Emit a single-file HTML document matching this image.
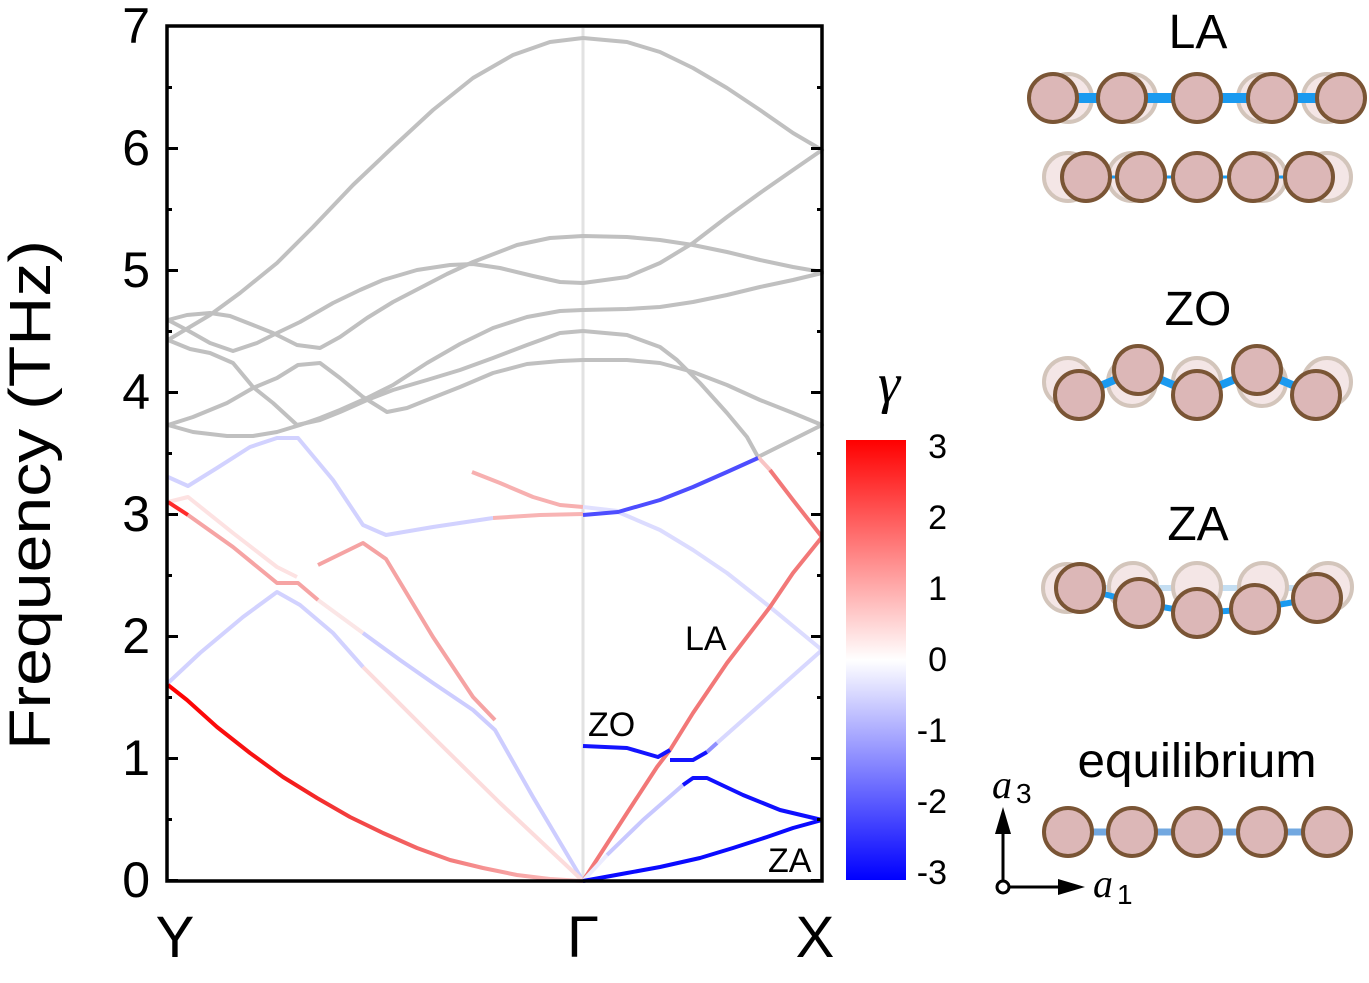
<!DOCTYPE html>
<html><head><meta charset="utf-8"><style>
html,body{margin:0;padding:0;background:#fff;}
svg{display:block;}
text{font-family:"Liberation Sans",Arial,sans-serif;fill:#000;}
.ser{font-family:"Liberation Serif","DejaVu Serif",serif;font-style:italic;}
.g{fill:none;stroke:#c0c0c0;stroke-width:4;stroke-linejoin:round;stroke-linecap:round;}
.c{fill:none;stroke-width:4;stroke-linejoin:round;stroke-linecap:butt;}
.gh{fill:#f4e6e6;stroke:#d3c5bb;stroke-width:4;}
.at{fill:#dcb7b7;stroke:#7a5535;stroke-width:4;}
</style></head><body>
<svg width="1369" height="983" viewBox="0 0 1369 983" xmlns="http://www.w3.org/2000/svg">
<defs>
<linearGradient id="cb" x1="0" y1="0" x2="0" y2="1">
<stop offset="0" stop-color="#ff0000"/>
<stop offset="0.5" stop-color="#ffffff"/>
<stop offset="1" stop-color="#0000ff"/>
</linearGradient>
<linearGradient id="c1" gradientUnits="userSpaceOnUse" x1="168" y1="0" x2="583" y2="0">
<stop offset="0" stop-color="#ff0000"/>
<stop offset="0.3" stop-color="#f41c1c"/>
<stop offset="0.55" stop-color="#f25a5a"/>
<stop offset="0.8" stop-color="#f69c9c"/>
<stop offset="1" stop-color="#fcc8c8"/>
</linearGradient>
</defs>

<!-- Gamma line -->
<line x1="583" y1="28" x2="583" y2="879" stroke="#e2e2e2" stroke-width="3"/>

<!-- gray bands -->
<polyline class="g" points="168,340 210,315 240,293 277,263 313,227 353,185 393,147 433,110 473,78 513,55 550,42 583,38 627,42 660,52 693,68 727,88 760,110 793,133 822,150"/>
<polyline class="g" points="168,320 187,315 210,313 230,316 253,325 273,333 297,345 320,348 340,337 367,318 393,302 420,288 447,274 473,262 517,245 550,238 583,236 627,237 660,240 693,245 727,252 760,260 793,267 822,272"/>
<polyline class="g" points="168,320 187,330 210,343 233,351 257,343 277,333 300,322 333,303 360,290 383,280 417,270 450,265 473,264 500,268 533,276 560,282 583,283 627,277 660,263 693,243 727,217 760,193 793,170 822,150"/>
<polyline class="g" points="168,340 190,349 210,353 233,363 253,387 273,403 297,425 320,420 340,412 367,400 393,390 427,380 460,370 493,358 527,345 560,333 583,331 627,335 660,347 677,360 700,383 727,413 747,437 758,457 822,425"/>
<polyline class="g" points="168,425 193,432 227,436 253,436 277,432 300,425 320,418 340,410 367,398 393,385 427,363 460,344 493,328 527,317 560,311 583,310 627,309 660,307 693,302 727,295 760,287 793,280 822,273"/>
<polyline class="g" points="168,425 193,417 227,403 253,388 277,378 298,365 320,363 340,378 363,397 387,412 407,408 427,400 460,387 493,373 527,364 560,361 583,360 627,360 660,363 693,372 727,385 760,400 793,413 822,425"/>

<!-- colored bands left -->
<polyline class="c" stroke="#fde2e2" points="168,502 188,497 233,533 277,567 297,577"/>
<polyline class="c" stroke="#fbe6e6" points="318,600 363,633"/>
<polyline class="c" stroke="#cdcdff" points="363,633 400,660 433,683 473,710 495,730 533,797 583,881"/>
<polyline class="c" stroke="#fcdcdc" points="363,667 433,737 500,803 583,881"/>
<polyline class="c" stroke="#d2d2ff" points="168,683 200,653 243,617 277,592 300,605 333,633 363,667"/>
<polyline class="c" stroke="url(#c1)" points="168,685 187,700 217,727 250,753 283,777 317,798 350,817 383,833 417,848 450,860 483,868 517,875 550,879 583,881"/>
<polyline class="c" stroke="#ff2a2a" points="168,502 188,515"/>
<polyline class="c" stroke="#f6a4a4" points="188,515 233,547 277,583 298,583 318,600"/>
<polyline class="c" stroke="#f5a3a3" points="318,565 363,543 386,559 433,637 473,697 495,720"/>
<polyline class="c" stroke="#d2d2ff" points="168,477 188,486 217,468 250,447 277,438 298,438 333,480 363,525 386,535 433,527 493,518"/>
<polyline class="c" stroke="#f8b4b4" points="493,518 540,515 583,514"/>
<polyline class="c" stroke="#f7b0b0" points="472,472 500,483 533,497 560,505 583,507"/>

<!-- colored bands right -->
<polyline class="c" stroke="#e0e0ff" points="583,507 618,511"/>
<polyline class="c" stroke="#dcdcff" points="618,512 660,530 693,550 727,573 770,607 822,650"/>
<polyline class="c" stroke="#d8d8ff" points="717,743 743,720 822,650"/>
<polyline class="c" stroke="#f8c4c4" points="770,470 758,457"/>
<polyline class="c" stroke="#f27878" points="822,537 793,500 770,470"/>
<polyline class="c" stroke="#4d4dff" points="583,515 618,512 660,500 693,487 727,472 758,458"/>
<polyline class="c" stroke="#f27878" points="583,881 627,813 657,767 670,750 693,713 727,663 770,607 793,573 822,537"/>
<polyline class="c" stroke="#1414ff" points="583,746 627,748 658,757 670,750"/>
<polyline class="c" stroke="#1414ff" points="670,760 693,760 707,752"/>
<polyline class="c" stroke="#9090ff" points="707,752 717,743"/>
<polyline class="c" stroke="#ececff" points="583,881 607,855"/>
<polyline class="c" stroke="#c8c8ff" points="607,855 643,820 683,785"/>
<polyline class="c" stroke="#1010ff" points="683,785 693,778 707,778 743,795 780,810 822,820"/>
<polyline class="c" stroke="#0a0aff" points="583,881 627,873 660,867 700,858 733,848 767,837 793,828 822,820"/>

<!-- frame -->
<rect x="167" y="26" width="655" height="855" fill="none" stroke="#000" stroke-width="3.5"/>
<g stroke="#000" stroke-width="3">
<line x1="167" y1="880.5" x2="178" y2="880.5"/><line x1="167" y1="758.5" x2="178" y2="758.5"/>
<line x1="167" y1="636.5" x2="178" y2="636.5"/><line x1="167" y1="514.5" x2="178" y2="514.5"/>
<line x1="167" y1="392.5" x2="178" y2="392.5"/><line x1="167" y1="270.5" x2="178" y2="270.5"/>
<line x1="167" y1="148.5" x2="178" y2="148.5"/>
<line x1="167" y1="819.5" x2="172" y2="819.5"/><line x1="167" y1="697.5" x2="172" y2="697.5"/>
<line x1="167" y1="575.5" x2="172" y2="575.5"/><line x1="167" y1="453.5" x2="172" y2="453.5"/>
<line x1="167" y1="331.5" x2="172" y2="331.5"/><line x1="167" y1="209.5" x2="172" y2="209.5"/>
<line x1="167" y1="87.5" x2="172" y2="87.5"/>
<line x1="822" y1="880.5" x2="811" y2="880.5"/><line x1="822" y1="758.5" x2="811" y2="758.5"/>
<line x1="822" y1="636.5" x2="811" y2="636.5"/><line x1="822" y1="514.5" x2="811" y2="514.5"/>
<line x1="822" y1="392.5" x2="811" y2="392.5"/><line x1="822" y1="270.5" x2="811" y2="270.5"/>
<line x1="822" y1="148.5" x2="811" y2="148.5"/>
<line x1="822" y1="819.5" x2="817" y2="819.5"/><line x1="822" y1="697.5" x2="817" y2="697.5"/>
<line x1="822" y1="575.5" x2="817" y2="575.5"/><line x1="822" y1="453.5" x2="817" y2="453.5"/>
<line x1="822" y1="331.5" x2="817" y2="331.5"/><line x1="822" y1="209.5" x2="817" y2="209.5"/>
<line x1="822" y1="87.5" x2="817" y2="87.5"/>
</g>

<!-- tick labels -->
<g font-size="50" text-anchor="end">
<text x="150" y="897">0</text><text x="150" y="775">1</text><text x="150" y="653">2</text>
<text x="150" y="531">3</text><text x="150" y="409">4</text><text x="150" y="287">5</text>
<text x="150" y="165">6</text><text x="150" y="43">7</text>
</g>
<text transform="translate(50,495) rotate(-90)" font-size="58" text-anchor="middle" textLength="510" lengthAdjust="spacingAndGlyphs">Frequency (THz)</text>
<g font-size="58" text-anchor="middle">
<text x="175" y="957">Y</text><text x="583" y="957">Γ</text><text x="815" y="957">X</text>
</g>
<g font-size="34">
<text x="685" y="650">LA</text><text x="588" y="736">ZO</text><text x="768" y="872">ZA</text>
</g>

<!-- colorbar -->
<rect x="846" y="440" width="60" height="440" fill="url(#cb)"/>
<text class="ser" x="889" y="402" font-size="56" text-anchor="middle">γ</text>
<g font-size="34" text-anchor="end">
<text x="947" y="458">3</text><text x="947" y="529">2</text><text x="947" y="600">1</text>
<text x="947" y="671">0</text><text x="947" y="742">-1</text><text x="947" y="813">-2</text>
<text x="947" y="884">-3</text>
</g>

<!-- right panel -->
<g font-size="48" text-anchor="middle">
<text x="1198" y="48">LA</text><text x="1198" y="325">ZO</text><text x="1198" y="540">ZA</text>
<text x="1197" y="777" textLength="239" lengthAdjust="spacingAndGlyphs">equilibrium</text>
</g>

<!-- LA row1 -->
<circle class="gh" cx="1068" cy="98" r="24"/><circle class="gh" cx="1132" cy="98" r="24"/>
<circle class="gh" cx="1262" cy="98" r="24"/><circle class="gh" cx="1327" cy="98" r="24"/>
<line x1="1053" y1="98" x2="1341" y2="98" stroke="#1a9af0" stroke-width="10"/>
<circle class="at" cx="1053" cy="98" r="24"/><circle class="at" cx="1122" cy="98" r="24"/>
<circle class="at" cx="1197" cy="98" r="24"/><circle class="at" cx="1272" cy="98" r="24"/>
<circle class="at" cx="1341" cy="98" r="24"/>
<!-- LA row2 -->
<circle class="gh" cx="1068" cy="177" r="24"/><circle class="gh" cx="1132" cy="177" r="24"/>
<circle class="gh" cx="1262" cy="177" r="24"/><circle class="gh" cx="1327" cy="177" r="24"/>
<line x1="1086" y1="177" x2="1309" y2="177" stroke="#1a9af0" stroke-width="3"/>
<circle class="at" cx="1086" cy="177" r="24"/><circle class="at" cx="1141" cy="177" r="24"/>
<circle class="at" cx="1197" cy="177" r="24"/><circle class="at" cx="1253" cy="177" r="24"/>
<circle class="at" cx="1309" cy="177" r="24"/>
<!-- ZO -->
<circle class="gh" cx="1068" cy="382" r="24"/><circle class="gh" cx="1132" cy="382" r="24"/>
<circle class="gh" cx="1197" cy="382" r="24"/><circle class="gh" cx="1262" cy="382" r="24"/>
<circle class="gh" cx="1327" cy="382" r="24"/>
<polyline points="1079,395 1138,370 1197,395 1257,370 1316,395" fill="none" stroke="#1a9af0" stroke-width="8"/>
<circle class="at" cx="1079" cy="395" r="24"/><circle class="at" cx="1138" cy="370" r="24"/>
<circle class="at" cx="1197" cy="395" r="24"/><circle class="at" cx="1257" cy="370" r="24"/>
<circle class="at" cx="1316" cy="395" r="24"/>
<!-- ZA -->
<line x1="1067" y1="588" x2="1328" y2="588" stroke="#c4def2" stroke-width="6"/>
<circle class="gh" cx="1067" cy="588" r="24"/><circle class="gh" cx="1133" cy="587" r="24"/>
<circle class="gh" cx="1197" cy="587" r="24"/><circle class="gh" cx="1263" cy="587" r="24"/>
<circle class="gh" cx="1328" cy="587" r="24"/>
<polyline points="1080,588 1139,603 1197,613 1255,609 1317,598" fill="none" stroke="#1a9af0" stroke-width="6"/>
<circle class="at" cx="1080" cy="588" r="24"/><circle class="at" cx="1139" cy="603" r="24"/>
<circle class="at" cx="1197" cy="613" r="24"/><circle class="at" cx="1255" cy="609" r="24"/>
<circle class="at" cx="1317" cy="598" r="24"/>
<!-- equilibrium -->
<line x1="1068" y1="832" x2="1327" y2="832" stroke="#72a8e0" stroke-width="7"/>
<circle class="at" cx="1068" cy="832" r="24"/><circle class="at" cx="1132" cy="832" r="24"/>
<circle class="at" cx="1197" cy="832" r="24"/><circle class="at" cx="1262" cy="832" r="24"/>
<circle class="at" cx="1327" cy="832" r="24"/>

<!-- axes arrows -->
<line x1="1003" y1="881" x2="1003" y2="830" stroke="#000" stroke-width="3"/>
<polygon points="1003,807 995,834 1011,834" fill="#000"/>
<line x1="1009" y1="887" x2="1060" y2="887" stroke="#000" stroke-width="3"/>
<polygon points="1085,887 1058,879 1058,895" fill="#000"/>
<circle cx="1003" cy="887" r="6" fill="#fff" stroke="#000" stroke-width="3"/>
<text class="ser" x="992" y="798" font-size="40">a</text>
<text x="1016" y="803" font-size="28">3</text>
<text class="ser" x="1093" y="897" font-size="40">a</text>
<text x="1117" y="904" font-size="28">1</text>
</svg>
</body></html>
